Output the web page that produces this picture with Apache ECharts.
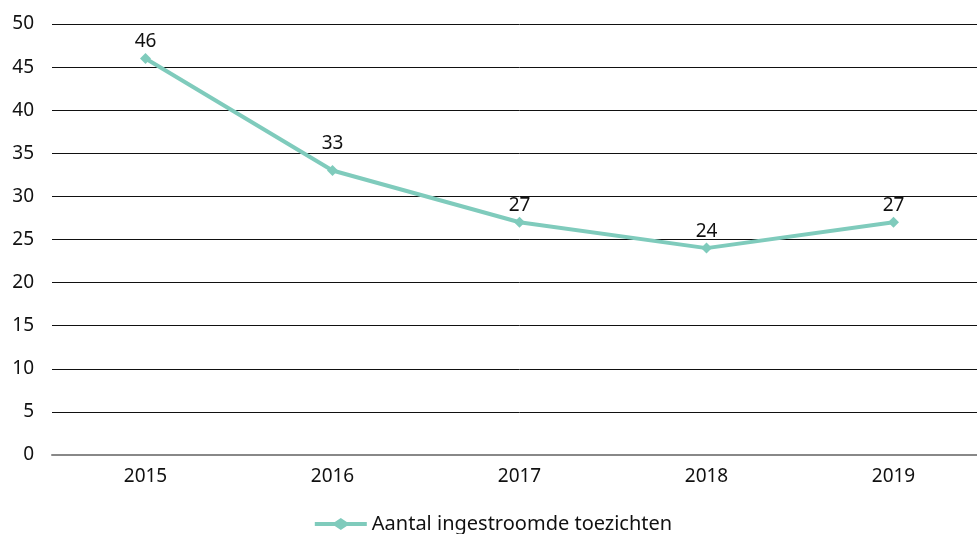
<!DOCTYPE html>
<html>
<head>
<meta charset="utf-8">
<script src="https://cdn.jsdelivr.net/npm/echarts@6/dist/echarts.min.js"></script>
<style>
  html, body { margin: 0; padding: 0; background: #fff; overflow: hidden; }
  /* the reference plot runs a little past the right edge, so draw wider and crop */
  #chart { width: 987px; height: 534px; }
</style>
</head>
<body>
<div id="chart"></div>
<script>
const categories = ["2015", "2016", "2017", "2018", "2019"];
const seriesName = "Aantal ingestroomde toezichten";
const values = [46, 33, 27, 24, 27];

const fontFamily = "'Noto Sans', 'Open Sans', sans-serif";
const teal = "#7fcbbc";

const chart = echarts.init(document.getElementById("chart"));

const option = {
  animation: false,
  textStyle: { fontFamily: fontFamily },
  grid: {
    top: 24,
    left: 52,
    right: 0,
    bottom: 79,
    containLabel: false,
  },
  legend: {
    bottom: -5,
    left: "center",
    itemWidth: 52,
    itemHeight: 12,
    itemGap: 4,
    textStyle: { fontSize: 20, color: "#111", fontFamily: fontFamily },
    data: [{
      name: seriesName,
      icon: "path://M0,4 L20,4 L26,0 L32,4 L52,4 L52,8 L32,8 L26,12 L20,8 L0,8 Z",
      itemStyle: { color: teal },
    }],
  },
  xAxis: {
    type: "category",
    data: categories,
    boundaryGap: true,
    axisLine: { show: true, lineStyle: { color: "#888", width: 2 } },
    axisTick: { show: false },
    axisLabel: { color: "#111", fontSize: 19, margin: 12 },
  },
  yAxis: {
    type: "value",
    min: 0,
    max: 50,
    interval: 5,
    axisLine: { show: false },
    axisTick: { show: false },
    axisLabel: { color: "#111", fontSize: 19, margin: 18 },
    splitLine: { show: true, lineStyle: { color: "#111", width: 1 } },
  },
  series: [
    {
      name: seriesName,
      type: "line",
      // the 2016 label sits a bit higher in the reference
      data: values.map((v, i) => (i === 1 ? { value: v, label: { distance: 12 } } : v)),
      symbol: "diamond",
      symbolSize: 11,
      showAllSymbol: true,
      lineStyle: { color: teal, width: 4 },
      itemStyle: { color: teal },
      label: {
        show: true,
        position: "top",
        distance: 2,
        color: "#111",
        fontSize: 19,
      },
      emphasis: { disabled: true },
    },
  ],
};

chart.setOption(option);
</script>
</body>
</html>
